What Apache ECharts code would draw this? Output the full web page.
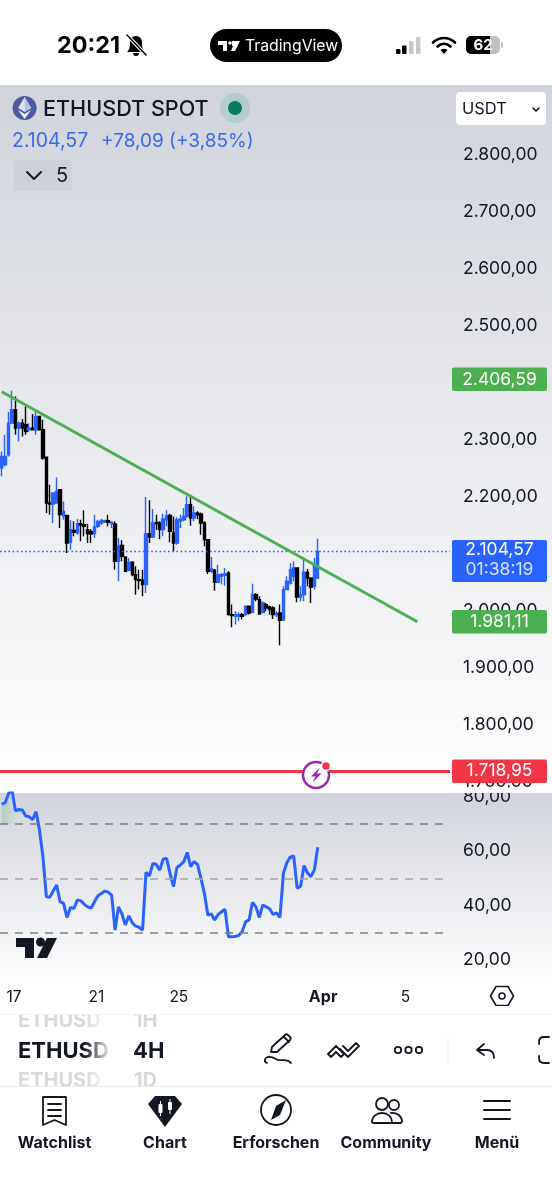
<!DOCTYPE html>
<html>
<head>
<meta charset="utf-8">
<title>ETHUSDT</title>
<style>
html, body { margin: 0; padding: 0; background: #fff; }
#container1 { width: 552px; height: 1200px; }
</style>
<script src="https://cdn.jsdelivr.net/npm/echarts@6/dist/echarts.min.js"></script>
</head>
<body>
<div id="container1"></div>
<script>
// price series (4H candles)
var candleOpen = [2250.8,2256.6,2274.1,2329.6,2353,2320.9,2329.6,2326.7,2318,2320.9,2318,2341.3,2318,2270,2189.4,2187.7,2189.4,2212.8,2167.2,2167.8,2120.5,2141.5,2136.8,2153.2,2151.4,2142.7,2139.7,2135.7,2148.5,2154.3,2156.1,2158.5,2153.2,2152.6,2087.2,2115.2,2094.7,2071.4,2085.4,2063.8,2055,2053.9,2046.3,2135.7,2129.8,2155.5,2154.3,2142.7,2160.2,2167.8,2136.8,2119.3,2157.3,2160.2,2166,2186.5,2163.1,2171.9,2170.1,2154.3,2125.1,2069.6,2071.4,2050.3,2060.9,2062.6,2066.7,1993.7,1990.7,1990.7,1993.7,1993.7,2008.3,1997.8,2028.7,2019.9,1997.8,2011.2,2007.1,2005.3,1993.7,1996.6,1984.9,2037.5,2049.2,2060.9,2075.5,2024.6,2028.7,2067.9,2057.9,2043.3,2057.9];
var candleClose = [2271.2,2271.2,2329.6,2353,2320.9,2329.6,2320.9,2315,2320.9,2318,2341.3,2318,2268.3,2189.4,2187.7,2206.9,2209.9,2169,2174.8,2119.3,2142.7,2138,2153.2,2150.8,2148.5,2135.7,2135.1,2147.3,2157.3,2159,2158.5,2155.5,2155.5,2087.2,2113.5,2095.9,2069.6,2085.4,2063.8,2055,2053.3,2046.3,2135.7,2129.8,2154.3,2153.2,2142.7,2161.4,2167.2,2139.7,2119.3,2160.2,2161.4,2166,2186.5,2163.1,2171.9,2169,2154.3,2125.1,2069.6,2073.7,2050.3,2063.8,2063.8,2064.9,1993.7,1991.9,1993.7,1993.7,1990.7,2008.3,1996.6,2028.7,2021.1,1994.8,2014.1,2005.3,2002.4,1993.7,1995.4,1983.7,2037.5,2052.1,2072.5,2075.5,2024.6,2028.7,2067.9,2057.9,2042.2,2079.5,2104.57];
var candleLow = [2236.2,2253.7,2271.2,2329.6,2309.2,2297.5,2306.3,2309.2,2315,2316.5,2309.2,2316.5,2265.4,2171.9,2169,2154.3,2189.4,2145.6,2160.2,2101.8,2107.6,2131,2133.9,2122.2,2131,2119.3,2119.3,2128.1,2145.6,2151.4,2154.3,2148.5,2145.6,2072.5,2052.1,2087.2,2067.9,2069.6,2060.9,2028.7,2037.5,2025.8,2031.6,2119.3,2128.1,2142.7,2126.3,2131,2148.5,2120.5,2104.7,2116.4,2145.6,2157.3,2163.1,2149.7,2157.3,2161.4,2133.9,2113.5,2064.9,2066.7,2035.7,2049.2,2046.3,2044.5,1991.9,1971.5,1976.1,1982,1984.9,1991.5,1993.7,1996.5,2017,1993.7,1995.4,1999.5,1993.7,1986.1,1989.5,1939.9,1982,2037.5,2046.3,2052.1,2015.3,2017,2017,2043.3,2014.1,2037.5,2056.2];
var candleHigh = [2280,2309.2,2348.9,2386.3,2376.4,2332.6,2336.7,2358.9,2329.6,2345.4,2350.1,2342.5,2335.5,2271.2,2221.5,2207.5,2234.4,2214,2192.3,2169,2159,2157.3,2161.4,2160.2,2176.6,2153.2,2143.8,2169,2160.2,2161.4,2160.2,2169,2157.3,2157.3,2128.1,2124,2095.9,2093,2087.2,2078.4,2072.5,2072.5,2199.9,2194.1,2178.9,2169,2157.3,2170.7,2176.6,2170.7,2166,2164.9,2169,2180.6,2201.1,2199.9,2183.6,2174.8,2173,2157.3,2126.3,2094.7,2073.7,2081.3,2066.7,2075.5,2069.6,2011.2,1999.5,1997.8,1996.6,2009.4,2009.4,2048,2031.6,2025.8,2017,2014.1,2009.4,2008.3,1999.5,2011.2,2043.3,2060.9,2084.2,2087.1,2075.5,2043.3,2093,2073.7,2057.9,2093,2126.9];

// RSI under the candles, same number of points
var rsiValues = [77.3,77.8,81.2,82.4,74.8,75.3,75.1,72.9,72.6,71.6,74.5,67.7,57.9,43.2,43,45.4,47.5,41.4,40.8,35.6,39.3,38.9,42,41.8,40.5,39.5,39,41.4,43.6,44.4,45.3,44.9,43.8,31,39.5,36.9,32.8,36.2,33.7,32.4,32,31,52.2,50.9,55.5,55.1,53,57.1,57.3,51.8,46.9,54,54.9,56.1,59.5,54.3,56.1,55.1,50,44.5,36.5,36.9,34.7,36.7,37.7,38.6,28.5,28.5,28.6,29,30.4,34,34.7,41.1,39.5,35.6,40.2,39.5,38.8,36.7,37.3,35.6,51.8,55.7,57.8,58.2,46.4,47.1,54.7,52,50.6,53,61.4];

var priceTicks = [1700,1800,1900,2000,2100,2200,2300,2400,2500,2600,2700,2800];
var rsiTicks = [20,40,60,80];
var rsiLevels = [70,50,30];
var xTickIndex = [4,28,52,94,118];
var xTickText = ['17','21','25','Apr','5'];
var trendLine = [[0,2384.7],[121,1981.11]];
var trendStartPrice = 2406.59;
var trendEndPrice = 1981.11;
var lastPrice = 2104.57;
var alertPrice = 1718.95;
var BAR_COUNT = 131;

var FONT = 'Inter, Roboto, sans-serif';
var INK = '#131722';
var BLUE = '#2962ff';
var GREEN = '#4caf50';
var RED = '#f23645';

var categories = [];
for (var i = 0; i < BAR_COUNT; i++) {
    var at = xTickIndex.indexOf(i);
    categories.push(at >= 0 ? xTickText[at] : '');
}
var candleData = candleOpen.map(function (o, i) {
    return [o, candleClose[i], candleLow[i], candleHigh[i]];
});

function fmt(v) {
    return v.toFixed(2).replace('.', ',').replace(/\B(?=(\d{3})(?!\d))/g, '.');
}

// small helpers for the app chrome around the chart
var chrome = [];
var zNow = 20;
var pathCount = 0;
function pathType(d) {
    // graphic has no plain path element, so every icon outline becomes a registered shape
    var name = 'icon' + (pathCount++);
    echarts.graphic.registerShape(name, echarts.graphic.extendPath(d, {}));
    return name;
}
function text(x, y, s, size, color, weight, align) {
    chrome.push({
        type: 'text', x: x, y: y + 1, z: zNow,
        style: { text: s, font: (weight || 400) + ' ' + size + 'px ' + FONT, fill: color || INK, align: align || 'left', verticalAlign: 'middle' }
    });
}
function box(x, y, w, h, fill, r, z) {
    chrome.push({ type: 'rect', z: z === undefined ? zNow : z, shape: { x: x, y: y, width: w, height: h, r: r || 0 }, style: { fill: fill } });
}
function line(d, color, width) {
    chrome.push({ type: pathType(d), z: zNow, style: { fill: 'none', stroke: color || INK, lineWidth: width || 2, lineCap: 'round', lineJoin: 'round' } });
}
function solid(d, color) {
    chrome.push({ type: pathType(d), z: zNow, style: { fill: color || INK } });
}
function dot(x, y, r, fill, stroke, width) {
    chrome.push({ type: 'circle', z: zNow, shape: { cx: x, cy: y, r: r }, style: { fill: fill || 'none', stroke: stroke || null, lineWidth: width || 0 } });
}
function fadeAcross(x0, x1, c0, c1) {
    return { type: 'linear', x: x0, y: 0, x2: x1, y2: 0, colorStops: [{ offset: 0, color: c0 }, { offset: 1, color: c1 }] };
}
function fadeDown(c0, c1) {
    return { type: 'linear', x: 0, y: 0, x2: 0, y2: 1, colorStops: [{ offset: 0, color: c0 }, { offset: 1, color: c1 }] };
}

// pane backgrounds, behind the axes
box(0, 85, 552, 708, fadeDown('#d1d4dc', '#ffffff'), 0, -2);
box(0, 793, 552, 194, fadeDown('#d1d4dc', '#ffffff'), 0, -2);
box(450, 787.5, 102, 5.5, '#fdfdfe', 0, 1);

// status bar
text(57, 45, '20:21', 23.4, '#000', 700);
solid('M136 36c-4 0-6 3-6 7 0 5-1 7-3 9h18c-2-2-3-4-3-9 0-4-2-7-6-7zM133 53c0 2 1 3 3 3s3-1 3-3z', '#000');
line('M127 35L146 55', '#fff', 3.5);
line('M127 35L146 55', '#000', 1.5);
box(210, 29, 132, 33, '#000', 16.5);
solid('M218 41h9v10h-4v-6h-5zM232 41h8l-5 10h-4l2-5h-1z', '#fff');
dot(230, 43, 1.8, '#fff');
text(245, 45.5, 'TradingView', 15.8, '#fff', 400);
box(396, 49, 4.5, 5, '#000', 1);
box(402, 45.5, 4.5, 8.5, '#000', 1);
box(409, 41, 4.5, 13, '#c8c8c8', 1);
box(416, 37, 4.5, 17, '#c8c8c8', 1);
line('M433 42.5c6.5-6 15.5-6 22 0', '#000', 2.6);
line('M437.5 46.5c4-3.5 9-3.5 13 0', '#000', 2.6);
solid('M440.5 50c2-1.8 5-1.8 7 0L444 54z', '#000');
box(466, 36, 34, 18, '#c0c0c0', 5);
box(466, 36, 24, 18, '#000', [5, 0, 0, 5]);
box(501, 42, 2, 6, '#c0c0c0', 1);
text(483, 44.5, '62', 15, '#fff', 700, 'center');

// symbol header
dot(24.6, 108, 12, '#4b5b9f');
solid('M24.6 97l-6.5 11 6.5 4 6.5-4z', '#dfe4f5');
solid('M24.6 97l6.5 11-6.5 4z', '#b8c2e8');
solid('M18.1 110l6.5 9 6.5-9-6.5 4z', '#eef0fa');
text(43, 108, 'ETHUSDT SPOT', 21.6, INK, 500);
dot(235, 108, 15, 'rgba(8,153,129,0.15)');
dot(235, 108, 7, '#087a5e');
text(12, 140, '2.104,57', 19.5, '#3a6ae8', 400);
text(101, 140, '+78,09 (+3,85%)', 19, '#3a6ae8', 400);
box(14, 160, 58, 31, 'rgba(120,123,134,0.09)', 2);
line('M27 172l7 7 7-7', INK, 2);
text(56, 175, '5', 20, INK, 400);
box(456, 92, 90, 33, '#fff', 4);
text(462, 108, 'USDT', 16.5, INK, 400);
line('M533 108l3 3 3-3', INK, 1.6);

// signal marker sitting on the red line
dot(316, 775, 13, '#fff', '#9c27b0', 2.5);
solid('M320 767.5l-9 9h4.5l-3 6 9-9h-4.5z', '#9c27b0');
dot(326, 766, 4.5, RED, '#fff', 1.5);

// TV logo on the oscillator pane
solid('M16 938h18v20h-9v-11h-9z');
dot(40.5, 942, 4.5, INK);
solid('M47 938h10l-10 20h-10z');

// hexagon on the time axis
line('M496 986.5h12l5.5 9.5-5.5 9.5h-12l-5.5-9.5z', INK, 1.6);
dot(502, 996, 3, null, INK, 1.6);

// toolbar rows; symbol names fade out before the resolution column
text(18, 1020, 'ETHUSD', 20, '#d9d9d9', 700);
text(18, 1050, 'ETHUSD', 22, INK, 700);
text(18, 1080, 'ETHUSD', 20, '#d9d9d9', 700);
zNow = 22;
box(84, 1012, 28, 76, fadeAcross(0, 1, 'rgba(255,255,255,0)', '#ffffff'));
box(112, 1012, 18, 76, '#fff');
zNow = 23;
text(134, 1020, '1H', 20, '#d9d9d9', 700);
text(134, 1080, '1D', 20, '#d9d9d9', 700);
text(133, 1050, '4H', 22, INK, 700);
zNow = 24;
box(0, 1006, 552, 8, '#fff');
box(0, 1014, 552, 1, '#f0f0f0');
box(0, 1087, 552, 113, '#fff');
box(0, 1086, 552, 1, '#ececec');
box(447.5, 1039, 1, 24, '#eeeeee');

line('M271 1052l1-5 13-12c1-1 2-1 3 0l2 2c1 1 1 2 0 3l-13 12z M284 1037l5 5 M267 1063c-3-1-3-5 1-6 5-1 7 2 10 3 4 1 9-2 13 3', INK, 1.8);
line('M328 1054l8-8 8 8-3 3-5-5-5 5z M343 1046l5 5 8-8 3 3-11 11-8-8', INK, 1.8);
dot(398, 1050, 3.2, null, INK, 1.8);
dot(408.5, 1050, 3.2, null, INK, 1.8);
dot(419, 1050, 3.2, null, INK, 1.8);
line('M484 1044l-7 6 7 5 M477 1050h10c5 0 7 3 7 8', INK, 1.8);
line('M549 1037h-5c-3 0-5 2-5 5v2 M539 1056v2c0 3 2 5 5 5h5', INK, 1.8);

// bottom navigation
zNow = 26;
line('M43 1097h23v28l-11.5-5-11.5 5z M48 1104h13 M48 1110h13 M48 1116h13', INK, 1.8);
solid('M155 1096h20l7 8-17 23-17-23z', INK);
box(158.5, 1104, 4, 9, '#fff', 1);
box(168, 1102, 4, 8, '#fff', 1);
box(160, 1101, 1, 15, '#fff');
box(169.5, 1099, 1, 15, '#fff');
dot(276, 1110, 15, null, INK, 1.8);
solid('M286 1100l-6 15-9 5 5-14z', INK);
dot(382, 1104, 6, null, INK, 1.8);
dot(394, 1105, 5, null, INK, 1.8);
line('M372 1122c0-5 4-9 10-9s10 4 10 9c0 1-1 1-2 1h-16c-1 0-2 0-2-1z M391 1113c5-1 11 3 11 8 0 1-1 2-2 2h-8', INK, 1.8);
line('M484 1101h26 M484 1110h26 M484 1119h26', INK, 2);
text(54.6, 1142, 'Watchlist', 16, INK, 700, 'center');
text(165, 1142, 'Chart', 16, INK, 700, 'center');
text(276, 1142, 'Erforschen', 16, INK, 700, 'center');
text(386, 1142, 'Community', 16, INK, 700, 'center');
text(497, 1142, 'Menü', 16, INK, 700, 'center');

// price tags on the right, hung on the price axis through markLine labels
function tag(price, s, bg) {
    return {
        yAxis: price,
        label: {
            show: true, position: 'end', distance: 2, offset: [47.5, 0], formatter: s, color: '#fff',
            backgroundColor: bg, borderRadius: 2, width: 95, height: 23.5, lineHeight: 23.5,
            align: 'center', fontFamily: FONT, fontSize: 17.5
        }
    };
}

var chart = echarts.init(document.getElementById('container1'));
var option = {
    animation: false,
    backgroundColor: '#fff',
    graphic: { elements: chrome },
    grid: [
        { left: -3, right: 102, top: 85, height: 708 },
        { left: -3, right: 102, top: 793, height: 194 }
    ],
    xAxis: [
        { type: 'category', gridIndex: 0, data: categories, axisLine: { show: false }, axisTick: { show: false }, axisLabel: { show: false }, splitLine: { show: false } },
        {
            type: 'category', gridIndex: 1, data: categories,
            axisLine: { show: false }, axisTick: { show: false }, splitLine: { show: false },
            axisLabel: {
                interval: function (i) { return xTickIndex.indexOf(i) >= 0; },
                margin: 2, padding: [0, 3, 0, 0], color: INK, fontFamily: FONT, fontSize: 15.5,
                formatter: function (v) { return v === 'Apr' ? '{b|Apr}' : v; },
                rich: { b: { fontWeight: 700, fontSize: 16, color: INK, fontFamily: FONT } }
            }
        }
    ],
    yAxis: [
        {
            type: 'value', gridIndex: 0, position: 'right', min: 1680.7, max: 2922.8,
            axisLine: { show: false }, axisTick: { show: false }, splitLine: { show: false },
            axisLabel: { customValues: priceTicks, formatter: fmt, margin: 13, color: INK, fontFamily: FONT, fontSize: 17.5, align: 'left' }
        },
        {
            type: 'value', gridIndex: 1, position: 'right', min: 10.04, max: 81.36,
            axisLine: { show: false }, axisTick: { show: false }, splitLine: { show: false },
            axisLabel: { customValues: rsiTicks, formatter: fmt, margin: 13, color: INK, fontFamily: FONT, fontSize: 17.5, align: 'left' }
        }
    ],
    series: [
        {
            name: 'ETHUSDT', type: 'candlestick', xAxisIndex: 0, yAxisIndex: 0, z: 3,
            barWidth: 3, data: candleData,
            itemStyle: { color: BLUE, color0: '#000', borderColor: BLUE, borderColor0: '#000', borderWidth: 1.4 },
            markLine: {
                silent: true, symbol: 'none', animation: false,
                lineStyle: { color: BLUE, type: [1.6, 2.6], width: 1.4 },
                data: [{
                    yAxis: lastPrice,
                    label: {
                        show: true, position: 'end', distance: 2, offset: [47.5, 9.5],
                        formatter: '{a|' + fmt(lastPrice) + '}\n{c|01:38:19}',
                        backgroundColor: BLUE, borderRadius: 2, width: 95, height: 42, align: 'center',
                        rich: {
                            a: { color: '#fff', fontFamily: FONT, fontSize: 17.5, lineHeight: 20, align: 'center' },
                            c: { color: 'rgba(255,255,255,0.8)', fontFamily: FONT, fontSize: 17.5, lineHeight: 20, align: 'center' }
                        }
                    }
                }]
            }
        },
        {
            name: 'trend', type: 'line', xAxisIndex: 0, yAxisIndex: 0, z: 5,
            data: trendLine, showSymbol: false, symbol: 'none',
            lineStyle: { color: GREEN, width: 3 },
            markLine: {
                silent: true, symbol: 'none', animation: false,
                lineStyle: { width: 0, color: 'rgba(0,0,0,0)' },
                data: [tag(trendStartPrice, fmt(trendStartPrice), GREEN), tag(trendEndPrice, fmt(trendEndPrice), GREEN)]
            }
        },
        {
            name: 'alert', type: 'line', xAxisIndex: 0, yAxisIndex: 0, z: 5, data: [], symbol: 'none',
            markLine: {
                silent: true, symbol: 'none', animation: false,
                lineStyle: { color: RED, type: 'solid', width: 3 },
                data: [tag(alertPrice, fmt(alertPrice), RED)]
            }
        },
        {
            name: 'RSI fill', type: 'line', xAxisIndex: 1, yAxisIndex: 1, z: 2,
            data: rsiValues.slice(0, 11), symbol: 'none', lineStyle: { width: 0 },
            areaStyle: { origin: 70, color: fadeAcross(0, 0.4, 'rgba(76,175,80,0.35)', 'rgba(76,175,80,0)') }
        },
        {
            name: 'RSI', type: 'line', xAxisIndex: 1, yAxisIndex: 1, z: 3,
            data: rsiValues, symbol: 'none',
            lineStyle: { color: BLUE, width: 3 },
            markLine: {
                silent: true, symbol: 'none', animation: false, label: { show: false },
                lineStyle: { color: '#808080', type: [8, 7], width: 1.5 },
                data: rsiLevels.map(function (v) {
                    return { yAxis: v, lineStyle: { color: v === 50 ? '#a6a6a6' : '#808080', type: [8, 7], width: 1.5 } };
                })
            }
        }
    ]
};
chart.setOption(option);
</script>
</body>
</html>
